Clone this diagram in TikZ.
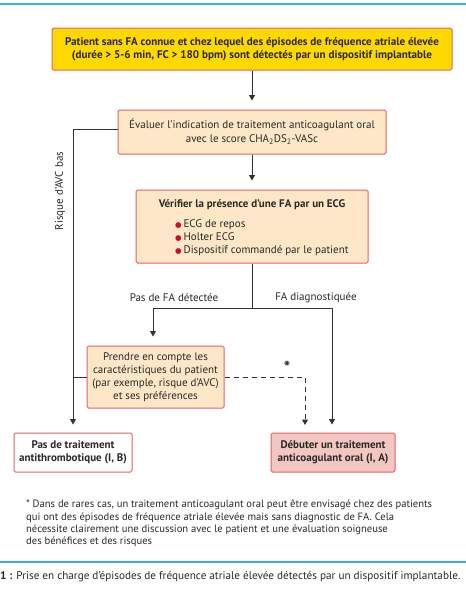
\documentclass[tikz,border=0pt]{standalone}
\usepackage{fontspec}
\setmainfont{PT Sans}
\newfontfamily\symfont{DejaVu Sans}
\usetikzlibrary{arrows.meta,positioning,calc}
\definecolor{boxyellow}{HTML}{FFD800}
\definecolor{boxborder}{HTML}{E0636A}
\definecolor{peach}{HTML}{FDE7C6}
\definecolor{pinkfill}{HTML}{F2C7C1}
\definecolor{bulletred}{HTML}{C8102E}
\definecolor{lineclr}{HTML}{333333}
\definecolor{bluerule}{HTML}{3AACE6}
\definecolor{txt}{HTML}{2A2A2A}
\newcommand{\redbullet}{\textcolor{bulletred}{\symfont\fontsize{7.5}{13}\selectfont ●}\,}
\tikzset{
  box/.style={draw=boxborder, line width=1pt, rounded corners=1.5pt, align=center, inner sep=0pt, text=txt, font=\fontsize{11}{13}\selectfont},
  conn/.style={draw=lineclr, line width=0.9pt},
  arr/.style={conn, -{Triangle[width=6pt,length=5.5pt]}},
  lbl/.style={text=txt, font=\fontsize{11}{13}\selectfont, inner sep=0pt},
}
\begin{document}
\begin{tikzpicture}[x=1pt,y=-1pt]
\useasboundingbox (0,0) rectangle (466,600);
\fill[white] (0,0) rectangle (466,600);
\draw[bluerule, line width=1.6pt] (0,4) -- (466,4);
\draw[bluerule, line width=1.6pt] (0,562) -- (466,562);

\node[box, fill=boxyellow, minimum width=400pt, minimum height=42pt, font=\bfseries\fontsize{11.1}{13}\selectfont] (top) at (252,49)
  {Patient sans FA connue et chez lequel des épisodes de fréquence atriale élevée\\(durée > 5-6 min, FC > 180 bpm) sont détectés par un dispositif implantable};

\node[box, fill=peach, minimum width=268pt, minimum height=44pt, font=\fontsize{11}{14}\selectfont] (eval) at (252,132)
  {Évaluer l'indication de traitement anticoagulant oral\\avec le score CHA\textsubscript{2}DS\textsubscript{2}-VASc};

\node[box, fill=peach, minimum width=232pt, minimum height=73pt] (verif) at (252,226.5) {};
\node[lbl, font=\bfseries\fontsize{11}{13}\selectfont] (vtitle) at (252,205) {Vérifier la présence d'une FA par un ECG};
\node[lbl, anchor=west, align=left, font=\fontsize{11}{13}\selectfont] (vlist) at (175,238)
  {\redbullet ECG de repos\\\redbullet Holter ECG\\\redbullet Dispositif commandé par le patient};

\node[box, fill=peach, minimum width=137pt, minimum height=62pt, font=\fontsize{11}{13}\selectfont] (prendre) at (155.5,377)
  {Prendre en compte les\\caractéristiques du patient\\(par exemple, risque d'AVC)\\et ses préférences};

\node[box, fill=white, minimum width=118pt, minimum height=39pt, font=\bfseries\fontsize{11}{13}\selectfont] (pas) at (73,452.5)
  {Pas de traitement\\antithrombotique (I, B)};

\node[box, fill=pinkfill, minimum width=124pt, minimum height=39pt, font=\bfseries\fontsize{11}{13}\selectfont] (debut) at (333,452.5)
  {Débuter un traitement\\anticoagulant oral (I, A)};

% connectors
\coordinate (split) at (252,308);
\coordinate (splitL) at (153,308);
\coordinate (splitR) at (332,308);
\coordinate (leftTop) at (73,129);
\coordinate (leftJoin) at (73,377);
\coordinate (dashCorner) at (305,377);
\coordinate (dashEnd) at (305,433);

\draw[arr, shorten >=9pt] (top.south) -- (eval.north);
\draw[arr, shorten >=9pt] (eval.south) -- (verif.north);
\draw[conn] (verif.south) -- (split);
\draw[conn] (splitL) -- (splitR);
\draw[arr, shorten >=9pt] (splitL) -- (splitL |- prendre.north);
\draw[arr, shorten >=8pt] (splitR) -- (splitR |- debut.north);
\draw[arr, shorten >=8pt] (eval.west |- leftTop) -- (leftTop) -- (pas.north);
\draw[conn] (prendre.west) -- (leftJoin);
\draw[arr, dashed, dash pattern=on 5pt off 4pt, shorten >=8pt] (prendre.east) -- (dashCorner) -- (dashEnd);

% labels
\node[lbl, rotate=90] (risque) at (60,191) {Risque d'AVC bas};
\node[lbl] (pasfa) at (174,298) {Pas de FA détectée};
\node[lbl] (fadiag) at (316,298) {FA diagnostiquée};
\node[lbl, font=\bfseries\fontsize{17}{17}\selectfont] (star) at (287,367) {*};

% footnote
\node[lbl, anchor=north west, align=left, font=\fontsize{10.6}{12.2}\selectfont] (foot) at (26,500)
  {* Dans de rares cas, un traitement anticoagulant oral peut être envisagé chez des patients\\
   qui ont des épisodes de fréquence atriale élevée mais sans diagnostic de FA. Cela\\
   nécessite clairement une discussion avec le patient et une évaluation soigneuse\\
   des bénéfices et des risques};

\node[lbl, anchor=west, font=\fontsize{11.2}{13}\selectfont] (caption) at (0,577)
  {\textbf{1 :} Prise en charge d'épisodes de fréquence atriale élevée détectés par un dispositif implantable.};
\end{tikzpicture}
\end{document}
